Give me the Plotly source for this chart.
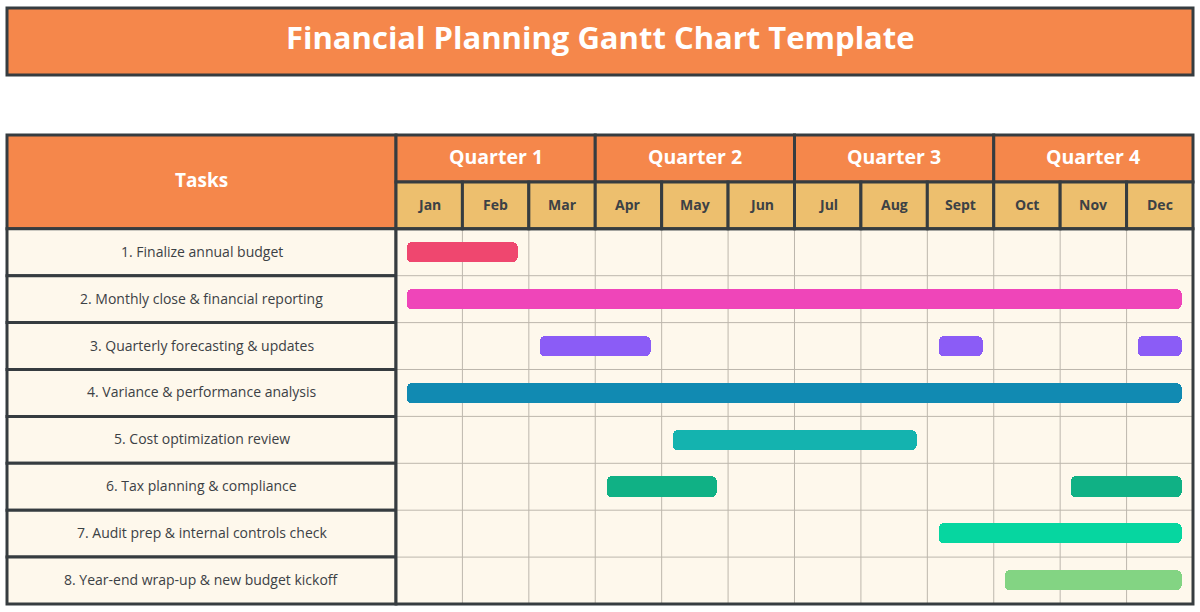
import plotly.graph_objects as go

# ---------------- data ----------------
title_text = "Financial Planning Gantt Chart Template"
quarters = ["Quarter 1", "Quarter 2", "Quarter 3", "Quarter 4"]
months = ["Jan", "Feb", "Mar", "Apr", "May", "Jun", "Jul", "Aug", "Sept", "Oct", "Nov", "Dec"]
tasks = [
    "1. Finalize annual budget",
    "2. Monthly close & financial reporting",
    "3. Quarterly forecasting & updates",
    "4. Variance & performance analysis",
    "5. Cost optimization review",
    "6. Tax planning & compliance",
    "7. Audit prep & internal controls check",
    "8. Year-end wrap-up & new budget kickoff",
]
task_colors = ["#EF476F", "#EF45B9", "#8B5CF6", "#118AB2", "#14B3AF", "#10B185", "#06D6A0", "#83D483"]
# segments: task index, first month (1-12), last month (1-12)
seg_task = [0, 1, 2, 2, 2, 3, 4, 5, 5, 6, 7]
seg_start = [1, 1, 3, 9, 12, 1, 5, 4, 11, 9, 10]
seg_end = [2, 12, 4, 9, 12, 12, 8, 5, 12, 12, 12]

# ---------------- style ----------------
W, H = 1200, 612
PX_L, PX_R, PX_T, PX_B = 396, 1193, 135, 604   # gantt area (months) in pixels
PX_TASK_L = 7
ORANGE = "#F5874B"
GOLD = "#EDBF6E"
CREAM = "#FEF8EC"
DARK = "#363C40"
GRID = "#BDB7AD"
TEXT = "#3C4145"
FONT = "Open Sans"

n_months = len(months)
n_rows = len(tasks) + 2  # 2 header rows
month_px = (PX_R - PX_L) / n_months
row_px = (PX_B - PX_T) / n_rows
pad = 0.08
inset_px = 11
inset = inset_px / month_px

def px_x(p):
    return p / W

def px_y(p):
    return 1 - p / H

fig = go.Figure()

# bars
for t in range(len(tasks)):
    ys, bases, lens = [], [], []
    for k in range(len(seg_task)):
        if seg_task[k] != t:
            continue
        s = seg_start[k] - 1 + inset
        e = seg_end[k] - inset
        ys.append(t + 0.5)
        bases.append(s)
        lens.append(e - s)
    fig.add_trace(go.Bar(
        y=ys, x=lens, base=bases, orientation="h", width=0.43,
        marker=dict(color=task_colors[t], cornerradius=5, line=dict(width=0)),
        hovertext=[tasks[t]] * len(ys), hoverinfo="text", showlegend=False,
    ))

shapes = []
# title box
shapes.append(dict(type="rect", xref="paper", yref="paper",
                   x0=px_x(7), x1=px_x(1193), y0=px_y(75), y1=px_y(8),
                   fillcolor=ORANGE, line=dict(color=DARK, width=3), layer="below"))
# cream row area
shapes.append(dict(type="rect", xref="x", yref="y", x0=0, x1=n_months, y0=0, y1=len(tasks),
                   fillcolor=CREAM, line=dict(width=0), layer="below"))
# thin grid
for m in range(1, n_months):
    shapes.append(dict(type="line", xref="x", yref="y", x0=m, x1=m, y0=0, y1=len(tasks),
                       line=dict(color=GRID, width=1), layer="below"))
for r in range(1, len(tasks)):
    shapes.append(dict(type="line", xref="x", yref="y", x0=0, x1=n_months, y0=r, y1=r,
                       line=dict(color=GRID, width=1), layer="below"))
# quarter header cells
for q in range(len(quarters)):
    shapes.append(dict(type="rect", xref="x", yref="y", x0=3 * q, x1=3 * q + 3, y0=-2, y1=-1,
                       fillcolor=ORANGE, line=dict(color=DARK, width=3), layer="below"))
# month header cells
for m in range(n_months):
    shapes.append(dict(type="rect", xref="x", yref="y", x0=m, x1=m + 1, y0=-1, y1=0,
                       fillcolor=GOLD, line=dict(color=DARK, width=3), layer="below"))
# tasks header cell
shapes.append(dict(type="rect", xref="paper", yref="y", x0=px_x(PX_TASK_L), x1=px_x(PX_L),
                   y0=-2, y1=0, fillcolor=ORANGE, line=dict(color=DARK, width=3), layer="below"))
# task cells
for r in range(len(tasks)):
    shapes.append(dict(type="rect", xref="paper", yref="y", x0=px_x(PX_TASK_L), x1=px_x(PX_L),
                       y0=r, y1=r + 1, fillcolor=CREAM, line=dict(color=DARK, width=3), layer="below"))
# outer border of gantt area
shapes.append(dict(type="rect", xref="x", yref="y", x0=0, x1=n_months, y0=0, y1=len(tasks),
                   fillcolor="rgba(0,0,0,0)", line=dict(color=DARK, width=3), layer="below"))

annotations = []
annotations.append(dict(text=title_text, xref="paper", yref="paper", x=0.5, y=px_y(39), yshift=2,
                        showarrow=False, font=dict(family=FONT, size=31, color="white", weight="bold"),
                        xanchor="center", yanchor="middle"))
annotations.append(dict(text="Tasks", xref="paper", yref="y", x=px_x((PX_TASK_L + PX_L) / 2), y=-1,
                        yshift=2, showarrow=False,
                        font=dict(family=FONT, size=19, color="white", weight="bold"),
                        xanchor="center", yanchor="middle"))
for q, qn in enumerate(quarters):
    annotations.append(dict(text=qn, xref="x", yref="y", x=3 * q + 1.5, y=-1.5, yshift=2, showarrow=False,
                            font=dict(family=FONT, size=19.5, color="white", weight="bold"),
                            xanchor="center", yanchor="middle"))
for m, mn in enumerate(months):
    annotations.append(dict(text=mn, xref="x", yref="y", x=m + 0.5, y=-0.5, yshift=1, showarrow=False,
                            font=dict(family=FONT, size=14, color=TEXT, weight="bold"),
                            xanchor="center", yanchor="middle"))
for r, tn in enumerate(tasks):
    annotations.append(dict(text=tn, xref="paper", yref="y", x=px_x((PX_TASK_L + PX_L) / 2), y=r + 0.5,
                            yshift=1, showarrow=False, font=dict(family=FONT, size=14, color=TEXT),
                            xanchor="center", yanchor="middle"))

fig.update_layout(
    width=W, height=H,
    margin=dict(l=0, r=0, t=0, b=0),
    paper_bgcolor="white", plot_bgcolor="white",
    shapes=shapes, annotations=annotations,
    barmode="overlay", bargap=0,
    xaxis=dict(domain=[px_x(PX_L - pad * month_px), px_x(PX_R + pad * month_px)],
               range=[-pad, n_months + pad], visible=False, fixedrange=True),
    yaxis=dict(domain=[px_y(PX_B + pad * row_px), px_y(PX_T - pad * row_px)],
               range=[len(tasks) + pad, -2 - pad], visible=False, fixedrange=True),
    font=dict(family=FONT),
)

fig.write_html(
    "out.html",
    config={"displayModeBar": False},
    post_script="document.body.style.margin='0';document.documentElement.style.overflow='hidden';document.body.style.overflow='hidden';",
)
